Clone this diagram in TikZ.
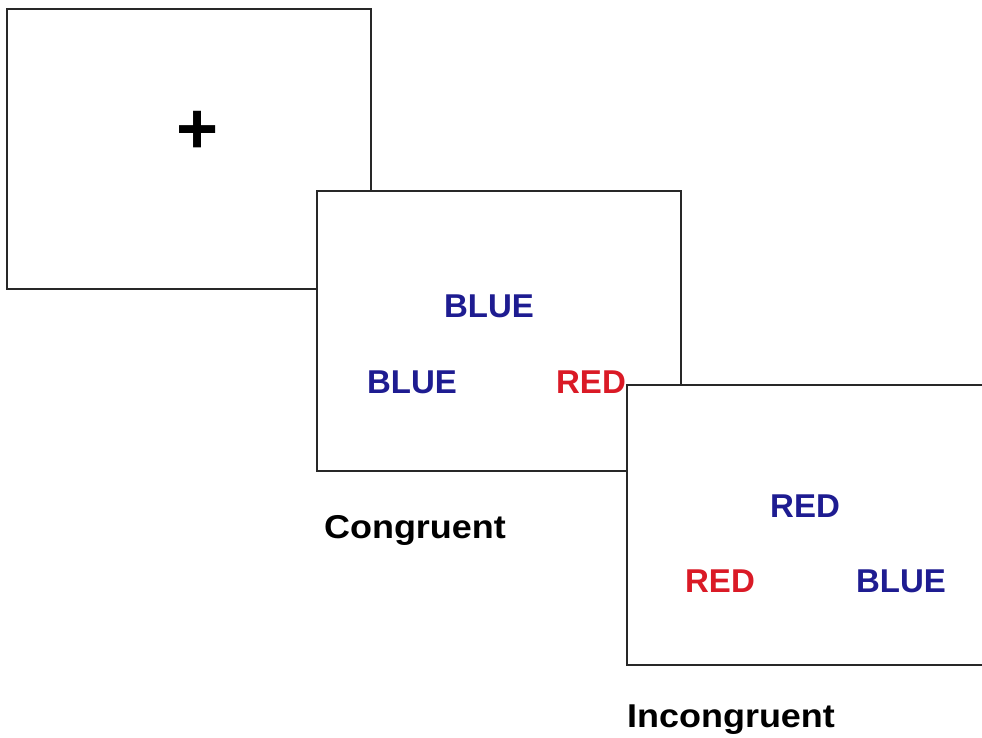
\documentclass[tikz,border=0pt]{standalone}
\usepackage{fontspec}
\setmainfont{Liberation Sans}
\usepackage{xcolor}
\definecolor{azul}{RGB}{30,28,145}
\definecolor{rojo}{RGB}{218,26,38}
\definecolor{borde}{RGB}{40,40,40}

\begin{document}
\begin{tikzpicture}[x=1pt,y=-1pt,
	pantalla/.style={draw=borde,fill=white,line width=2.2pt},
	palabra/.style={anchor=base,inner sep=0pt,font=\bfseries\fontsize{33}{36}\selectfont},
	etiqueta/.style={anchor=base,inner sep=0pt,xscale=1.09,font=\bfseries\fontsize{33}{36}\selectfont}]
			\useasboundingbox (0,0) rectangle (982,738);
			\clip (0,0) rectangle (982,738);
			%pantalla de fijación
			\draw[pantalla] (7,9) rectangle (371,289);
			\node[inner sep=0pt,font=\bfseries\fontsize{72}{72}\selectfont] (cruz) at (198,132) {+};
			%ensayo congruente
			\draw[pantalla] (317,191) rectangle (681,471);
			\node[palabra,text=azul] (c1) at (489,317) {BLUE};
			\node[palabra,text=azul] (c2) at (412,393) {BLUE};
			\node[palabra,text=rojo] (c3) at (591,393) {RED};
			\node[etiqueta] (cong) at (415,538) {Congruent};
			%ensayo incongruente
			\draw[pantalla] (627,385) rectangle (995,665);
			\node[palabra,text=azul] (i1) at (805,517) {RED};
			\node[palabra,text=rojo] (i2) at (720,592) {RED};
			\node[palabra,text=azul] (i3) at (901,592) {BLUE};
			\node[etiqueta] (incong) at (731,727) {Incongruent};
		\end{tikzpicture}
\end{document}
